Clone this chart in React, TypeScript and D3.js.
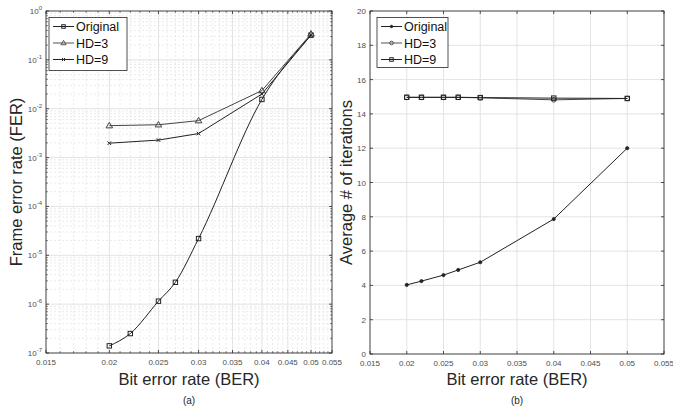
import React, { useEffect } from 'react';
import * as d3 from 'd3';

// BER points shared by both panels
const berValues = [0.02, 0.022, 0.025, 0.027, 0.03, 0.04, 0.05];
const berShort = [0.02, 0.025, 0.03, 0.04, 0.05];

// (a) frame error rate
const ferOriginal = [1.4e-7, 2.5e-7, 1.15e-6, 2.8e-6, 2.2e-5, 1.55e-2, 0.32];
const ferHD3 = [4.5e-3, 4.7e-3, 5.7e-3, 2.35e-2, 0.34];
const ferHD9 = [1.97e-3, 2.28e-3, 3.1e-3, 2.0e-2, 0.32];

// (b) average number of iterations
const iterOriginal = [4.03, 4.25, 4.6, 4.9, 5.35, 7.87, 12.0];
const iterHD3 = [14.96, 14.96, 14.96, 14.96, 14.94, 14.82, 14.9];
const iterHD9 = [14.97, 14.97, 14.97, 14.97, 14.95, 14.92, 14.9];

const xTickLabels = ['0.015', '0.02', '0.025', '0.03', '0.035', '0.04', '0.045', '0.05', '0.055'];
const yTicksA = [-7, -6, -5, -4, -3, -2, -1, 0];
const yTicksB = [0, 2, 4, 6, 8, 10, 12, 14, 16, 18, 20];
const legendNames = ['Original', 'HD=3', 'HD=9'];

const FONT = 'Liberation Sans, Arial, sans-serif';
const AXIS = '#262626';
const TICKTXT = '#4d4d4d';
const GRID = '#e3e3e3';

type Marker = 'square' | 'triangle' | 'x' | 'dot' | 'circle';

const MarkerShape = ({ type, x, y, color, s = 1 }: { type: Marker; x: number; y: number; color: string; s?: number }) => {
  if (type === 'square') return <rect x={x - 2.2 * s} y={y - 2.2 * s} width={4.4 * s} height={4.4 * s} fill="none" stroke={color} strokeWidth={1} />;
  if (type === 'triangle') return <path d={`M${x},${y - 3.3 * s}L${x + 3.3 * s},${y + 2.2 * s}L${x - 3.3 * s},${y + 2.2 * s}Z`} fill="none" stroke={color} strokeWidth={1} />;
  if (type === 'x') return <path d={`M${x - 1.8 * s},${y - 1.8 * s}L${x + 1.8 * s},${y + 1.8 * s}M${x - 1.8 * s},${y + 1.8 * s}L${x + 1.8 * s},${y - 1.8 * s}`} stroke={color} strokeWidth={1} />;
  if (type === 'dot') return <circle cx={x} cy={y} r={1.6 * s} fill={color} stroke={color} strokeWidth={0.8} />;
  return <circle cx={x} cy={y} r={2.3 * s} fill="none" stroke={color} strokeWidth={1} />;
};

const Series = ({ xs, ys, sx, sy, marker, color, curve }: any) => {
  const pts: [number, number][] = xs.map((v: number, i: number) => [sx(v), sy(ys[i])]);
  const line = d3.line().curve(curve || d3.curveLinear)(pts) || '';
  return (
    <g>
      <path d={line} fill="none" stroke={color} strokeWidth={1} />
      {pts.map((p, i) => <MarkerShape key={i} type={marker} x={p[0]} y={p[1]} color={color} />)}
    </g>
  );
};

const Legend = ({ x, y, w, h, markers, colors }: any) => (
  <g>
    <rect x={x} y={y} width={w} height={h} fill="white" stroke={AXIS} strokeWidth={0.8} />
    {legendNames.map((n, i) => {
      const cy = y + 9 + i * 16.5;
      return (
        <g key={n}>
          <line x1={x + 4} x2={x + 25} y1={cy} y2={cy} stroke={colors[i]} strokeWidth={1} />
          <MarkerShape type={markers[i]} x={x + 14.5} y={cy} color={colors[i]} s={0.8} />
          <text x={x + 27} y={cy + 4.5} fontSize={12.5} fontFamily={FONT} fill="#111">{n}</text>
        </g>
      );
    })}
  </g>
);

const PanelA = () => {
  const x0 = 46, x1 = 332, y0 = 11, y1 = 353;
  const sx = d3.scaleLog().domain([0.015, 0.055]).range([x0, x1]);
  const sy = d3.scaleLog().domain([1e-7, 1]).range([y1, y0]);
  const majorX = xTickLabels.map(Number);
  const minorX = d3.range(15, 56).map((v) => v / 1000).filter((v) => !majorX.some((m) => Math.abs(m - v) < 1e-9));
  const minorY: number[] = [];
  yTicksA.slice(0, -1).forEach((e) => { for (let k = 2; k <= 9; k++) minorY.push(k * Math.pow(10, e)); });
  return (
    <g>
      {minorX.map((v) => <line key={'mgx' + v} x1={sx(v)} x2={sx(v)} y1={y0} y2={y1} stroke="#e6e6e6" strokeWidth={0.8} strokeDasharray="2,2" />)}
      {minorY.map((v) => <line key={'mgy' + v} x1={x0} x2={x1} y1={sy(v)} y2={sy(v)} stroke="#e6e6e6" strokeWidth={0.8} strokeDasharray="2,2" />)}
      {majorX.map((v) => <line key={'gx' + v} x1={sx(v)} x2={sx(v)} y1={y0} y2={y1} stroke={GRID} strokeWidth={1} />)}
      {yTicksA.map((e) => <line key={'gy' + e} x1={x0} x2={x1} y1={sy(Math.pow(10, e))} y2={sy(Math.pow(10, e))} stroke={GRID} strokeWidth={1} />)}
      <rect x={x0} y={y0} width={x1 - x0} height={y1 - y0} fill="none" stroke={AXIS} strokeWidth={0.8} />
      {majorX.map((v) => (
        <g key={'tx' + v}>
          <line x1={sx(v)} x2={sx(v)} y1={y1} y2={y1 - 3} stroke={AXIS} strokeWidth={0.8} />
          <line x1={sx(v)} x2={sx(v)} y1={y0} y2={y0 + 3} stroke={AXIS} strokeWidth={0.8} />
        </g>
      ))}
      {minorX.map((v) => (
        <g key={'mtx' + v}>
          <line x1={sx(v)} x2={sx(v)} y1={y1} y2={y1 - 1.8} stroke={AXIS} strokeWidth={0.6} />
          <line x1={sx(v)} x2={sx(v)} y1={y0} y2={y0 + 1.8} stroke={AXIS} strokeWidth={0.6} />
        </g>
      ))}
      {minorY.map((v) => (
        <g key={'mty' + v}>
          <line x1={x0} x2={x0 + 1.8} y1={sy(v)} y2={sy(v)} stroke={AXIS} strokeWidth={0.6} />
          <line x1={x1} x2={x1 - 1.8} y1={sy(v)} y2={sy(v)} stroke={AXIS} strokeWidth={0.6} />
        </g>
      ))}
      {yTicksA.map((e) => (
        <g key={'ty' + e}>
          <line x1={x0} x2={x0 + 3} y1={sy(Math.pow(10, e))} y2={sy(Math.pow(10, e))} stroke={AXIS} strokeWidth={0.8} />
          <line x1={x1} x2={x1 - 3} y1={sy(Math.pow(10, e))} y2={sy(Math.pow(10, e))} stroke={AXIS} strokeWidth={0.8} />
          <text x={x0 - 4} y={sy(Math.pow(10, e)) + 3} fontSize={8} fontFamily={FONT} fill={TICKTXT} textAnchor="end">
            10<tspan dy={-4} fontSize={6}>{e}</tspan>
          </text>
        </g>
      ))}
      {xTickLabels.map((t) => (
        <text key={'lx' + t} x={sx(Number(t))} y={y1 + 12} fontSize={8} fontFamily={FONT} fill={TICKTXT} textAnchor="middle">{t}</text>
      ))}
      <Series xs={berValues} ys={ferOriginal} sx={sx} sy={sy} marker="square" color="#222" curve={d3.curveMonotoneX} />
      <Series xs={berShort} ys={ferHD3} sx={sx} sy={sy} marker="triangle" color="#444" />
      <Series xs={berShort} ys={ferHD9} sx={sx} sy={sy} marker="x" color="#222" />
      <Legend x={49} y={17.5} w={78} h={53} markers={['square', 'triangle', 'x']} colors={['#222', '#555', '#222']} />
      <text x={(x0 + x1) / 2} y={385} fontSize={16.5} fontFamily={FONT} fill="#262626" textAnchor="middle">Bit error rate (BER)</text>
      <text transform={`translate(22,${(y0 + y1) / 2}) rotate(-90)`} fontSize={16.5} fontFamily={FONT} fill="#262626" textAnchor="middle">Frame error rate (FER)</text>
      <text x={(x0 + x1) / 2} y={404} fontSize={10} fontFamily={FONT} fill="#262626" textAnchor="middle">(a)</text>
    </g>
  );
};

const PanelB = () => {
  const x0 = 370, x1 = 664, y0 = 11, y1 = 354;
  const sx = d3.scaleLinear().domain([0.015, 0.055]).range([x0, x1]);
  const sy = d3.scaleLinear().domain([0, 20]).range([y1, y0]);
  const majorX = xTickLabels.map(Number);
  return (
    <g>
      {majorX.map((v) => <line key={'gx' + v} x1={sx(v)} x2={sx(v)} y1={y0} y2={y1} stroke={GRID} strokeWidth={1} />)}
      {yTicksB.map((v) => <line key={'gy' + v} x1={x0} x2={x1} y1={sy(v)} y2={sy(v)} stroke={GRID} strokeWidth={1} />)}
      <rect x={x0} y={y0} width={x1 - x0} height={y1 - y0} fill="none" stroke={AXIS} strokeWidth={0.8} />
      {majorX.map((v) => (
        <g key={'tx' + v}>
          <line x1={sx(v)} x2={sx(v)} y1={y1} y2={y1 - 3} stroke={AXIS} strokeWidth={0.8} />
          <line x1={sx(v)} x2={sx(v)} y1={y0} y2={y0 + 3} stroke={AXIS} strokeWidth={0.8} />
        </g>
      ))}
      {yTicksB.map((v) => (
        <g key={'ty' + v}>
          <line x1={x0} x2={x0 + 3} y1={sy(v)} y2={sy(v)} stroke={AXIS} strokeWidth={0.8} />
          <line x1={x1} x2={x1 - 3} y1={sy(v)} y2={sy(v)} stroke={AXIS} strokeWidth={0.8} />
          <text x={x0 - 4} y={sy(v) + 3} fontSize={8} fontFamily={FONT} fill={TICKTXT} textAnchor="end">{v}</text>
        </g>
      ))}
      {xTickLabels.map((t) => (
        <text key={'lx' + t} x={sx(Number(t))} y={y1 + 12} fontSize={8} fontFamily={FONT} fill={TICKTXT} textAnchor="middle">{t}</text>
      ))}
      <Series xs={berValues} ys={iterOriginal} sx={sx} sy={sy} marker="dot" color="#222" />
      <Series xs={berValues} ys={iterHD3} sx={sx} sy={sy} marker="circle" color="#444" />
      <Series xs={berValues} ys={iterHD9} sx={sx} sy={sy} marker="square" color="#222" />
      <Legend x={377} y={17.5} w={71} h={50} markers={['dot', 'circle', 'square']} colors={['#222', '#555', '#222']} />
      <text x={(x0 + x1) / 2} y={385} fontSize={16.5} fontFamily={FONT} fill="#262626" textAnchor="middle">Bit error rate (BER)</text>
      <text transform={`translate(352,${(y0 + y1) / 2}) rotate(-90)`} fontSize={16.5} fontFamily={FONT} fill="#262626" textAnchor="middle">Average # of iterations</text>
      <text x={(x0 + x1) / 2} y={404} fontSize={10} fontFamily={FONT} fill="#262626" textAnchor="middle">(b)</text>
    </g>
  );
};

export default function App() {
  useEffect(() => {
    document.body.style.margin = '0';
  }, []);
  return (
    <svg width={673} height={409} style={{ display: 'block', background: 'white' }}>
      <PanelA />
      <PanelB />
    </svg>
  );
}
